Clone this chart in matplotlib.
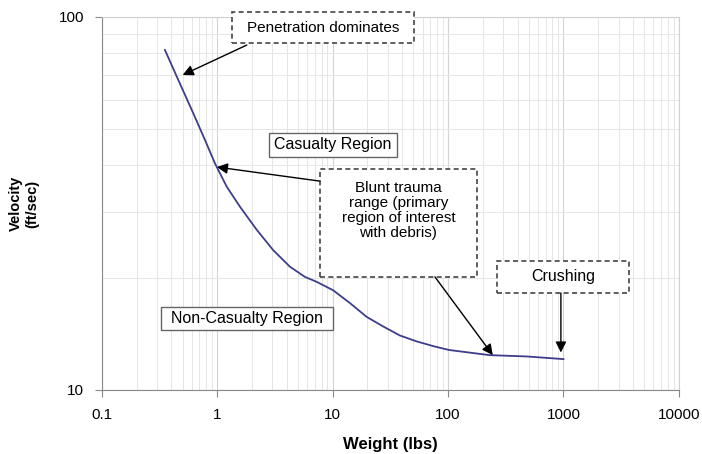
import numpy as np
import matplotlib
matplotlib.use("Agg")
import matplotlib.pyplot as plt
from matplotlib.patches import Rectangle
from matplotlib.ticker import FixedLocator, FixedFormatter, NullFormatter, LogLocator

# curve
weight = [0.351, 0.445, 0.618, 0.781, 0.953, 1.204, 1.57, 2.19, 3.05, 4.26, 5.74, 7.25,
          10.1, 14.1, 19.7, 27.4, 38.2, 53.3, 75, 102, 229, 480, 1000]
velocity = [81.6, 69.2, 55.2, 46.8, 40.5, 35.1, 31.0, 26.9, 23.7, 21.4, 20.1, 19.5,
            18.5, 17.1, 15.7, 14.8, 14.0, 13.5, 13.1, 12.8, 12.4, 12.3, 12.1]

x_ticks = [0.1, 1, 10, 100, 1000, 10000]
x_labels = ["0.1", "1", "10", "100", "1000", "10000"]
y_ticks = [10, 100]
y_labels = ["10", "100"]

plt.rcParams['font.family'] = ['Liberation Sans', 'DejaVu Sans']

fig = plt.figure(figsize=(7.02, 4.54), dpi=100)
ax = fig.add_axes([0.1453, 0.141, 0.8217, 0.8216])

ax.plot(weight, velocity, color='#3d3d8c', lw=1.3)
ax.set_xscale('log')
ax.set_yscale('log')
ax.set_xlim(0.1, 10000)
ax.set_ylim(10, 100)

ax.xaxis.set_major_locator(FixedLocator(x_ticks))
ax.xaxis.set_major_formatter(FixedFormatter(x_labels))
ax.yaxis.set_major_locator(FixedLocator(y_ticks))
ax.yaxis.set_major_formatter(FixedFormatter(y_labels))
ax.xaxis.set_minor_locator(LogLocator(base=10, subs=np.arange(2, 10)))
ax.yaxis.set_minor_locator(LogLocator(base=10, subs=np.arange(2, 10)))
ax.xaxis.set_minor_formatter(NullFormatter())
ax.yaxis.set_minor_formatter(NullFormatter())

ax.grid(which='major', color='#d4d4d4', lw=0.8)
ax.grid(which='minor', color='#e6e6e6', lw=0.7)
ax.set_axisbelow(True)
ax.tick_params(which='major', direction='out', length=5, color='#888888', labelsize=11, pad=8)
ax.tick_params(which='minor', length=0)
for s in ['left', 'bottom']:
    ax.spines[s].set_color('#888888')
for s in ['top', 'right']:
    ax.spines[s].set_color('#d0d0d0')

ax.set_xlabel('Weight (lbs)', fontsize=12, fontweight='bold', labelpad=11)
ax.set_ylabel('Velocity\n(ft/sec)', fontsize=10.5, fontweight='bold', labelpad=14)

arrow = dict(arrowstyle='-|>', color='black', lw=1, mutation_scale=16, shrinkA=0, shrinkB=0)
dash_kw = dict(fc='white', ec='#444444', ls=(0, (3, 2)), lw=1.2, zorder=3, clip_on=False)
solid_kw = dict(fc='white', ec='#666666', lw=1.0, zorder=3, clip_on=False)


def box(x0, x1, y0, y1, kw):
    ax.add_patch(Rectangle((x0, y0), x1 - x0, y1 - y0, **kw))


# Penetration dominates
box(1.34, 50.6, 85.2, 103.1, dash_kw)
ax.text(8.2, 93.7, 'Penetration dominates', ha='center', va='center', fontsize=11, zorder=4)
ax.annotate('', xy=(0.50, 69.9), xytext=(1.8, 84.1), arrowprops=arrow)

# region labels
box(2.80, 36.0, 42.2, 48.9, solid_kw)
ax.text(10, 45.4, 'Casualty Region', ha='center', va='center', fontsize=11.5, zorder=4)
box(0.324, 10.04, 14.5, 16.7, solid_kw)
ax.text(1.8, 15.55, 'Non-Casualty Region', ha='center', va='center', fontsize=11.5, zorder=4)

# blunt trauma
box(7.74, 178, 20.1, 39.1, dash_kw)
ax.text(37.1, 30.3, 'Blunt trauma\nrange (primary\nregion of interest\nwith debris)',
        ha='center', va='center', fontsize=11, linespacing=1.1, zorder=4)
ax.annotate('', xy=(0.99, 39.6), xytext=(7.74, 36.3), arrowprops=arrow)
ax.annotate('', xy=(244, 12.4), xytext=(76.9, 20.1), arrowprops=arrow)

# crushing
box(265, 3690, 18.2, 22.2, dash_kw)
ax.text(988, 20.1, 'Crushing', ha='center', va='center', fontsize=11.5, zorder=4)
ax.annotate('', xy=(950, 12.6), xytext=(950, 18.2), arrowprops=arrow)

fig.savefig('out.png', dpi=100)
